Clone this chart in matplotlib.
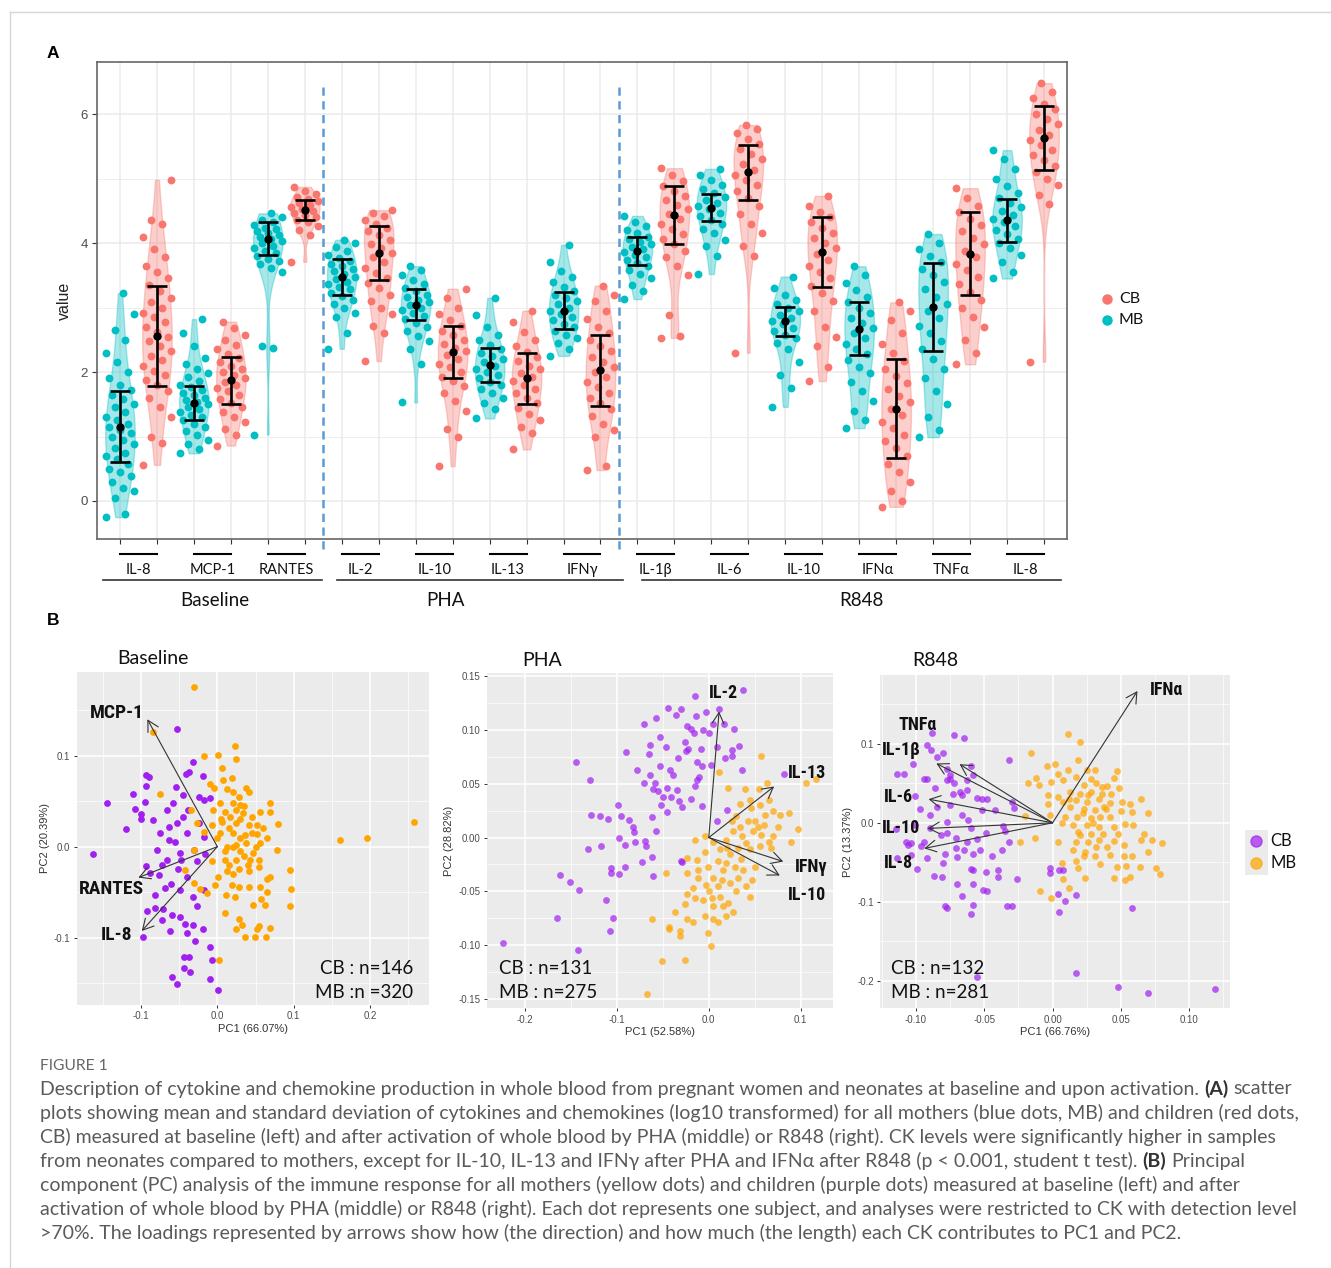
import numpy as np
import matplotlib
matplotlib.use('Agg')
import matplotlib.pyplot as plt
from matplotlib import font_manager
from matplotlib.lines import Line2D
from matplotlib.patches import Rectangle
from matplotlib.transforms import blended_transform_factory

# ---------------- fonts ----------------
_names = {f.name for f in font_manager.fontManager.ttflist}
def pick(*cands):
    for c in cands:
        if c in _names:
            return c
    return 'DejaVu Sans'
SANS = pick('Lato', 'Open Sans', 'Liberation Sans')
ARIAL = pick('Liberation Sans', 'Arimo', 'DejaVu Sans')
NARROW = pick('Liberation Sans Narrow', 'Roboto Condensed', 'Liberation Sans')
FS = [SANS, 'DejaVu Sans']
FA = [ARIAL, 'DejaVu Sans']
FN = [NARROW, 'DejaVu Sans']

# ---------------- data: panel A ----------------
categories = ['IL-8', 'MCP-1', 'RANTES', 'IL-2', 'IL-10', 'IL-13', 'IFNγ',
              'IL-1β', 'IL-6', 'IL-10', 'IFNα', 'TNFα', 'IL-8']
conditions = ['Baseline', 'PHA', 'R848']

values_mb = [
    [-0.25, -0.2, 0.05, 0.15, 0.2, 0.3, 0.38, 0.45, 0.5, 0.58, 0.65, 0.7, 0.75, 0.82, 0.88, 0.95, 1.0, 1.05, 1.1, 1.15, 1.2, 1.25, 1.3, 1.38, 1.45, 1.5, 1.58, 1.65, 1.72, 1.8, 1.9, 2.0, 2.15, 2.3, 2.5, 2.65, 2.9, 3.22],
    [0.74, 0.8, 0.88, 0.95, 1.02, 1.08, 1.14, 1.2, 1.25, 1.3, 1.34, 1.38, 1.42, 1.46, 1.5, 1.53, 1.56, 1.6, 1.64, 1.68, 1.72, 1.76, 1.8, 1.86, 1.92, 1.98, 2.05, 2.12, 2.22, 2.4, 2.6, 2.82],
    [1.03, 2.38, 2.4, 3.55, 3.62, 3.68, 3.72, 3.76, 3.8, 3.84, 3.88, 3.92, 3.96, 4.0, 4.03, 4.06, 4.09, 4.12, 4.15, 4.18, 4.21, 4.24, 4.28, 4.32, 4.36, 4.4, 4.46],
    [2.36, 2.6, 2.85, 2.92, 3.0, 3.06, 3.12, 3.18, 3.23, 3.28, 3.32, 3.36, 3.4, 3.44, 3.48, 3.52, 3.56, 3.6, 3.64, 3.68, 3.72, 3.77, 3.82, 3.88, 3.94, 4.0, 4.05],
    [1.53, 2.12, 2.35, 2.48, 2.56, 2.64, 2.7, 2.76, 2.82, 2.87, 2.92, 2.96, 3.0, 3.04, 3.08, 3.12, 3.16, 3.2, 3.25, 3.3, 3.36, 3.42, 3.5, 3.58, 3.64],
    [1.28, 1.42, 1.52, 1.6, 1.68, 1.74, 1.8, 1.85, 1.9, 1.95, 2.0, 2.05, 2.1, 2.15, 2.2, 2.25, 2.3, 2.36, 2.42, 2.5, 2.58, 2.7, 2.88, 3.15],
    [2.25, 2.35, 2.45, 2.52, 2.58, 2.64, 2.7, 2.75, 2.8, 2.85, 2.9, 2.95, 3.0, 3.05, 3.1, 3.15, 3.2, 3.26, 3.32, 3.4, 3.48, 3.56, 3.7, 3.97],
    [3.13, 3.25, 3.35, 3.45, 3.52, 3.58, 3.64, 3.69, 3.74, 3.78, 3.82, 3.86, 3.9, 3.94, 3.98, 4.02, 4.06, 4.1, 4.15, 4.2, 4.26, 4.32, 4.42],
    [3.52, 3.8, 3.95, 4.05, 4.15, 4.22, 4.3, 4.36, 4.42, 4.47, 4.52, 4.57, 4.62, 4.67, 4.72, 4.78, 4.84, 4.9, 4.98, 5.06, 5.15],
    [1.46, 1.75, 1.95, 2.15, 2.35, 2.45, 2.52, 2.58, 2.64, 2.69, 2.74, 2.79, 2.84, 2.89, 2.94, 3.0, 3.06, 3.12, 3.2, 3.3, 3.48],
    [1.13, 1.25, 1.4, 1.55, 1.7, 1.85, 1.98, 2.08, 2.18, 2.28, 2.36, 2.44, 2.52, 2.6, 2.68, 2.76, 2.84, 2.92, 3.0, 3.08, 3.17, 3.27, 3.38, 3.5, 3.64],
    [0.99, 1.1, 1.3, 1.5, 1.7, 1.9, 2.05, 2.2, 2.35, 2.48, 2.6, 2.72, 2.84, 2.95, 3.06, 3.17, 3.28, 3.39, 3.5, 3.6, 3.7, 3.8, 3.9, 4.0, 4.14],
    [3.45, 3.55, 3.7, 3.82, 3.92, 4.0, 4.07, 4.14, 4.2, 4.26, 4.32, 4.38, 4.44, 4.5, 4.56, 4.62, 4.7, 4.78, 4.88, 5.0, 5.15, 5.3, 5.44],
]
values_cb = [
    [0.56, 0.9, 1.0, 1.3, 1.45, 1.6, 1.7, 1.8, 1.88, 1.95, 2.02, 2.1, 2.18, 2.25, 2.32, 2.4, 2.48, 2.55, 2.62, 2.7, 2.78, 2.85, 2.92, 3.0, 3.08, 3.15, 3.25, 3.35, 3.45, 3.55, 3.65, 3.78, 3.9, 4.1, 4.3, 4.35, 4.98],
    [0.86, 1.02, 1.12, 1.22, 1.3, 1.38, 1.45, 1.52, 1.58, 1.64, 1.7, 1.75, 1.8, 1.85, 1.9, 1.95, 2.0, 2.05, 2.1, 2.16, 2.22, 2.28, 2.35, 2.42, 2.5, 2.58, 2.68, 2.78],
    [3.71, 4.12, 4.2, 4.26, 4.32, 4.36, 4.4, 4.44, 4.47, 4.5, 4.53, 4.56, 4.59, 4.62, 4.65, 4.68, 4.72, 4.76, 4.8, 4.87],
    [2.17, 2.6, 2.72, 2.9, 3.0, 3.1, 3.2, 3.3, 3.38, 3.46, 3.54, 3.62, 3.7, 3.78, 3.85, 3.92, 3.98, 4.05, 4.12, 4.18, 4.24, 4.3, 4.36, 4.42, 4.47, 4.51],
    [0.54, 1.0, 1.12, 1.4, 1.55, 1.68, 1.78, 1.86, 1.93, 2.0, 2.07, 2.13, 2.2, 2.26, 2.32, 2.38, 2.44, 2.5, 2.57, 2.64, 2.72, 2.8, 2.9, 3.0, 3.15, 3.29],
    [0.8, 1.05, 1.15, 1.25, 1.35, 1.44, 1.52, 1.6, 1.67, 1.74, 1.8, 1.86, 1.92, 1.98, 2.04, 2.1, 2.17, 2.24, 2.31, 2.4, 2.5, 2.62, 2.78, 2.95],
    [0.48, 0.55, 1.0, 1.1, 1.2, 1.32, 1.42, 1.52, 1.6, 1.68, 1.76, 1.84, 1.92, 2.0, 2.08, 2.16, 2.24, 2.32, 2.4, 2.5, 2.6, 2.7, 2.82, 2.95, 3.1, 3.2, 3.34],
    [2.53, 2.56, 2.89, 3.5, 3.65, 3.78, 3.88, 3.98, 4.06, 4.14, 4.22, 4.3, 4.38, 4.45, 4.52, 4.59, 4.66, 4.73, 4.8, 4.88, 4.96, 5.05, 5.16],
    [2.3, 3.8, 3.95, 4.15, 4.3, 4.45, 4.58, 4.7, 4.8, 4.9, 4.98, 5.06, 5.14, 5.22, 5.3, 5.38, 5.46, 5.54, 5.62, 5.7, 5.77, 5.83],
    [1.86, 2.08, 2.4, 2.55, 2.7, 2.95, 3.1, 3.22, 3.34, 3.45, 3.55, 3.65, 3.74, 3.83, 3.92, 4.0, 4.08, 4.16, 4.24, 4.32, 4.4, 4.48, 4.58, 4.73],
    [-0.09, 0.0, 0.15, 0.3, 0.45, 0.58, 0.7, 0.82, 0.93, 1.03, 1.13, 1.23, 1.33, 1.43, 1.53, 1.63, 1.73, 1.83, 1.94, 2.05, 2.17, 2.3, 2.44, 2.6, 2.8, 2.95, 3.08],
    [2.12, 2.3, 2.5, 2.7, 2.85, 3.0, 3.12, 3.24, 3.36, 3.47, 3.58, 3.68, 3.78, 3.88, 3.98, 4.08, 4.18, 4.28, 4.38, 4.48, 4.58, 4.7, 4.85],
    [2.16, 4.6, 4.75, 4.9, 5.0, 5.1, 5.2, 5.28, 5.36, 5.44, 5.52, 5.6, 5.68, 5.76, 5.84, 5.92, 6.0, 6.08, 6.16, 6.25, 6.34, 6.48],
]
mean_mb = [1.155, 1.52, 4.065, 3.475, 3.04, 2.11, 2.95, 3.88, 4.55, 2.785, 2.67, 3.005, 4.35]
sd_mb = [0.545, 0.26, 0.255, 0.275, 0.24, 0.26, 0.29, 0.22, 0.21, 0.225, 0.41, 0.685, 0.33]
mean_cb = [2.56, 1.87, 4.515, 3.85, 2.31, 1.905, 2.025, 4.43, 5.095, 3.865, 1.43, 3.835, 5.635]
sd_cb = [0.78, 0.36, 0.155, 0.42, 0.41, 0.395, 0.555, 0.45, 0.425, 0.545, 0.77, 0.645, 0.495]

# ---------------- data: panel B (PC1, PC2 scores) ----------------
baseline_cb = [(-0.163,-0.008),(-0.145,0.048),(-0.120,0.019),(-0.111,0.058),(-0.108,0.041),(-0.100,0.036),(-0.100,0.030),(-0.095,0.049),(-0.093,0.067),(-0.093,0.079),(-0.090,0.077),(-0.084,0.029),(-0.079,-0.004),(-0.093,-0.021),(-0.088,-0.029),(-0.082,-0.053),(-0.092,-0.071),(-0.082,-0.067),(-0.098,-0.099),(-0.073,-0.081),(-0.069,-0.045),(-0.066,-0.015),(-0.064,0.007),(-0.064,0.022),(-0.066,0.040),(-0.058,0.048),(-0.053,0.129),(-0.054,0.066),(-0.053,0.026),(-0.055,0.005),(-0.051,-0.024),(-0.061,-0.041),(-0.059,-0.075),(-0.062,-0.093),(-0.059,-0.143),(-0.053,-0.151),(-0.049,-0.077),(-0.042,-0.085),(-0.044,-0.121),(-0.044,-0.133),(-0.036,-0.138),(-0.037,-0.121),(-0.040,-0.095),(-0.041,0.080),(-0.037,0.082),(-0.032,0.093),(-0.045,0.057),(-0.038,0.040),(-0.040,0.015),(-0.040,-0.033),(-0.032,-0.055),(-0.032,-0.086),(-0.029,-0.104),(-0.027,-0.065),(-0.019,0.078),(-0.024,0.055),(-0.017,0.051),(-0.010,0.053),(-0.024,0.026),(-0.018,0.011),(-0.016,-0.008),(-0.018,-0.048),(-0.019,-0.090),(-0.010,-0.110),(-0.007,-0.124),(-0.009,-0.145),(0.001,-0.158),(-0.031,-0.004),(-0.027,-0.016),(-0.047,-0.015),(-0.073,-0.020),(-0.077,-0.031),(-0.071,-0.068),(-0.049,-0.048),(-0.075,0.015),(-0.049,-0.007),(-0.045,0.033)]
baseline_mb = [(-0.031,0.176),(-0.084,0.126),(0.023,0.111),(0.025,0.096),(0.001,0.101),(-0.018,0.100),(0.006,0.086),(0.019,0.075),(0.007,0.073),(0.038,0.064),(0.041,0.060),(-0.010,0.069),(-0.004,0.064),(0.012,0.063),(0.069,0.048),(0.069,0.038),(0.080,0.025),(0.056,0.038),(0.028,0.055),(0.030,0.046),(0.021,0.048),(0.003,0.048),(-0.006,0.040),(0.010,0.038),(0.017,0.033),(0.034,0.037),(0.045,0.033),(0.052,0.024),(0.041,0.024),(0.025,0.026),(0.006,0.027),(-0.007,0.024),(-0.027,0.026),(-0.034,0.040),(-0.075,0.058),(-0.018,0.016),(0.003,0.015),(0.021,0.015),(0.036,0.013),(0.052,0.014),(0.065,0.009),(0.078,-0.004),(0.056,0.004),(0.038,0.004),(0.025,0.002),(0.012,0.000),(0.030,-0.005),(0.047,-0.007),(0.043,-0.015),(0.025,-0.015),(0.010,-0.015),(-0.007,-0.016),(-0.031,-0.004),(-0.042,-0.026),(-0.031,-0.040),(-0.023,-0.046),(-0.014,-0.051),(-0.003,-0.042),(0.001,-0.033),(0.012,-0.027),(0.028,-0.024),(0.041,-0.027),(0.054,-0.022),(0.069,-0.033),(0.095,-0.026),(0.097,-0.046),(0.095,-0.065),(0.065,-0.035),(0.056,-0.044),(0.065,-0.050),(0.057,-0.057),(0.063,-0.064),(0.047,-0.064),(0.041,-0.044),(0.028,-0.044),(0.023,-0.055),(0.011,-0.053),(0.010,-0.073),(0.019,-0.042),(0.028,-0.079),(0.032,-0.086),(0.024,-0.090),(0.036,-0.099),(0.049,-0.099),(0.054,-0.087),(0.052,-0.090),(0.064,-0.099),(0.069,-0.089),(0.002,-0.125),(0.161,0.007),(0.196,0.010),(0.257,0.027),(0.015,0.020),(0.030,0.030),(0.020,0.000),(0.035,-0.010),(0.045,0.015),(0.010,-0.005),(0.005,0.030),(0.025,0.040),(0.040,-0.020),(0.020,-0.030),(0.050,0.000),(0.030,0.010),(0.015,-0.020),(0.060,0.020),(0.000,0.010),(0.035,0.045),(0.055,-0.015),(0.020,0.060)]
pha_cb = [(-0.224,-0.098),(-0.165,-0.075),(-0.162,-0.035),(-0.151,-0.041),(-0.141,-0.049),(-0.144,0.070),(-0.142,-0.104),(-0.131,-0.011),(-0.129,0.053),(-0.128,0.021),(-0.118,0.020),(-0.117,-0.008),(-0.110,0.017),(-0.112,-0.058),(-0.108,-0.087),(-0.106,-0.028),(-0.106,-0.033),(-0.104,-0.075),(-0.099,0.030),(-0.098,0.000),(-0.098,-0.034),(-0.095,0.020),(-0.091,-0.007),(-0.091,-0.027),(-0.090,0.079),(-0.087,0.016),(-0.083,0.010),(-0.081,0.005),(-0.080,-0.004),(-0.078,0.063),(-0.073,-0.023),(-0.070,0.105),(-0.070,0.051),(-0.069,-0.003),(-0.068,-0.008),(-0.065,0.078),(-0.064,0.086),(-0.064,0.058),(-0.062,0.019),(-0.062,-0.018),(-0.061,-0.036),(-0.061,0.045),(-0.059,0.051),(-0.057,0.111),(-0.057,0.006),(-0.055,0.043),(-0.053,0.093),(-0.053,0.066),(-0.052,0.030),(-0.050,0.038),(-0.047,0.084),(-0.046,0.046),(-0.045,0.024),(-0.044,0.120),(-0.042,0.063),(-0.041,0.038),(-0.039,0.058),(-0.036,0.114),(-0.035,0.044),(-0.033,0.074),(-0.032,0.034),(-0.030,0.119),(-0.029,0.028),(-0.029,-0.023),(-0.026,0.089),(-0.025,0.080),(-0.024,0.104),(-0.023,0.082),(-0.019,0.101),(-0.019,0.036),(-0.016,0.097),(-0.015,0.131),(-0.015,0.048),(-0.014,0.113),(-0.013,0.070),(-0.013,0.053),(-0.011,0.056),(-0.008,0.082),(-0.007,0.066),(-0.007,0.029),(-0.006,0.100),(-0.003,0.117),(0.000,0.097),(0.002,0.067),(0.005,0.105),(0.009,0.015),(0.009,0.084),(0.011,0.119),(0.017,0.105),(0.018,0.074),(0.020,0.026),(0.025,0.076),(0.025,0.081),(0.027,0.101),(0.033,0.085),(0.036,0.063),(0.037,0.137),(0.082,0.059),(-0.030,-0.022)]
pha_mb = [(0.057,0.076),(0.011,0.061),(0.021,0.046),(0.039,0.045),(0.063,0.051),(0.106,0.051),(0.117,0.054),(0.034,0.031),(0.046,0.027),(0.056,0.030),(0.061,0.021),(0.070,0.025),(0.078,0.021),(0.087,0.023),(0.097,0.008),(0.089,-0.004),(0.065,-0.004),(0.054,0.010),(0.043,0.015),(0.034,0.010),(0.026,0.006),(0.019,-0.002),(0.036,0.001),(0.048,0.006),(0.057,0.002),(0.070,0.001),(0.068,-0.010),(0.056,-0.008),(0.045,-0.011),(0.032,-0.010),(0.023,-0.015),(0.012,-0.011),(0.005,-0.004),(-0.004,0.001),(-0.015,-0.002),(-0.004,-0.013),(-0.013,-0.021),(-0.024,-0.019),(-0.024,-0.033),(-0.012,-0.030),(-0.001,-0.027),(0.010,-0.022),(0.019,-0.024),(0.028,-0.027),(0.037,-0.030),(0.050,-0.027),(0.047,-0.039),(0.045,-0.055),(0.032,-0.038),(0.023,-0.042),(0.014,-0.039),(0.005,-0.038),(-0.003,-0.044),(-0.012,-0.038),(-0.017,-0.047),(-0.024,-0.052),(-0.015,-0.056),(-0.006,-0.058),(0.003,-0.056),(0.012,-0.055),(0.021,-0.061),(0.026,-0.069),(0.016,-0.064),(0.005,-0.064),(-0.004,-0.073),(0.005,-0.076),(0.010,-0.078),(0.019,-0.073),(-0.026,-0.062),(-0.037,-0.069),(-0.024,-0.076),(-0.017,-0.078),(-0.031,-0.087),(-0.031,-0.091),(-0.043,-0.083),(-0.043,-0.085),(-0.062,-0.076),(-0.001,-0.089),(0.002,-0.101),(-0.051,-0.115),(-0.026,-0.114),(-0.067,-0.145),(-0.047,-0.033),(0.030,0.020),(0.050,0.015),(0.040,-0.005),(0.060,0.012),(0.020,-0.010),(0.035,-0.020),(0.015,-0.030),(0.045,0.035),(0.025,0.015),(0.065,0.035),(0.075,0.010),(0.000,-0.050),(0.010,-0.045),(0.030,-0.050),(0.040,-0.045),(0.055,0.045)]
r848_cb = [(-0.088,0.114),(-0.072,0.111),(-0.065,0.108),(-0.092,0.098),(-0.089,0.092),(-0.080,0.089),(-0.085,0.083),(-0.032,0.079),(-0.102,0.074),(-0.060,0.072),(-0.077,0.068),(-0.114,0.062),(-0.109,0.062),(-0.075,0.060),(-0.058,0.060),(-0.094,0.055),(-0.092,0.056),(-0.075,0.055),(-0.063,0.054),(-0.077,0.054),(-0.072,0.050),(-0.086,0.044),(-0.063,0.042),(-0.068,0.039),(-0.073,0.036),(-0.101,0.034),(-0.066,0.035),(-0.055,0.032),(-0.052,0.030),(-0.048,0.030),(-0.030,0.027),(-0.085,0.020),(-0.075,0.022),(-0.097,0.018),(-0.052,0.016),(-0.042,0.016),(-0.028,0.019),(-0.090,0.010),(-0.066,0.010),(-0.077,0.001),(-0.062,0.003),(-0.101,-0.003),(-0.036,-0.004),(-0.115,-0.008),(-0.090,-0.007),(-0.060,-0.007),(-0.077,-0.013),(-0.049,-0.013),(-0.035,-0.010),(-0.082,-0.016),(-0.107,-0.024),(-0.104,-0.025),(-0.094,-0.024),(-0.071,-0.019),(-0.063,-0.024),(-0.055,-0.021),(-0.032,-0.024),(-0.106,-0.028),(-0.096,-0.029),(-0.071,-0.032),(-0.065,-0.035),(-0.053,-0.035),(-0.037,-0.035),(-0.104,-0.041),(-0.092,-0.045),(-0.079,-0.039),(-0.070,-0.043),(-0.058,-0.040),(-0.044,-0.042),(-0.114,-0.045),(-0.099,-0.059),(-0.080,-0.051),(-0.060,-0.058),(-0.058,-0.060),(-0.049,-0.062),(-0.040,-0.060),(-0.087,-0.068),(-0.081,-0.069),(-0.070,-0.077),(-0.058,-0.077),(-0.040,-0.069),(-0.026,-0.071),(-0.066,-0.093),(-0.051,-0.085),(-0.048,-0.086),(-0.079,-0.106),(-0.077,-0.108),(-0.058,-0.104),(-0.060,-0.115),(-0.033,-0.105),(-0.030,-0.105),(-0.055,-0.195),(-0.002,-0.057),(-0.002,-0.063),(0.005,-0.060),(0.008,-0.060),(0.004,-0.090),(0.009,-0.099),(0.005,-0.113),(0.017,-0.092),(0.017,-0.190),(0.058,-0.108),(0.048,-0.208),(0.070,-0.216),(0.119,-0.210)]
r848_mb = [(0.011,0.113),(0.020,0.102),(-0.016,0.089),(0.002,0.074),(-0.004,0.072),(0.019,0.079),(0.025,0.067),(0.031,0.067),(0.047,0.066),(0.011,0.067),(0.004,0.062),(-0.012,0.057),(0.045,0.057),(-0.018,0.050),(-0.010,0.048),(-0.001,0.052),(0.008,0.054),(0.017,0.058),(0.023,0.048),(0.032,0.050),(0.040,0.047),(0.049,0.044),(0.013,0.039),(0.020,0.037),(0.028,0.039),(0.036,0.036),(0.043,0.037),(-0.003,0.035),(0.004,0.033),(0.008,0.027),(0.017,0.029),(0.025,0.027),(0.034,0.030),(0.042,0.025),(0.051,0.027),(0.057,0.024),(0.065,0.030),(-0.003,0.024),(0.013,0.020),(0.023,0.018),(0.031,0.016),(0.039,0.018),(0.050,0.015),(0.058,0.014),(0.070,0.012),(-0.020,0.009),(-0.002,0.010),(0.009,0.008),(0.018,0.008),(0.028,0.006),(0.035,0.008),(0.042,0.008),(0.007,0.000),(0.015,-0.003),(0.025,-0.003),(0.034,-0.005),(0.045,-0.005),(0.053,-0.002),(0.059,-0.003),(0.019,-0.011),(0.028,-0.014),(0.037,-0.014),(0.048,-0.014),(0.067,-0.014),(-0.013,-0.019),(-0.024,-0.024),(0.004,-0.024),(0.017,-0.024),(0.026,-0.024),(0.034,-0.022),(0.045,-0.023),(0.052,-0.028),(0.065,-0.022),(0.073,-0.022),(0.080,-0.025),(0.015,-0.035),(0.024,-0.037),(0.031,-0.042),(0.042,-0.041),(0.052,-0.042),(0.058,-0.042),(0.070,-0.037),(0.007,-0.051),(0.017,-0.048),(0.023,-0.042),(0.035,-0.052),(0.047,-0.056),(0.054,-0.055),(0.064,-0.056),(0.076,-0.057),(0.079,-0.065),(0.019,-0.057),(0.008,-0.071),(0.024,-0.070),(0.045,-0.070),(0.053,-0.073),(0.057,-0.069),(0.012,-0.082),(-0.009,-0.086),(-0.001,-0.095),(0.022,0.012),(0.030,0.000),(0.038,0.020),(0.026,0.035),(0.032,-0.030),(0.012,0.030),(0.040,-0.030),(0.020,-0.015),(0.036,0.045),(0.028,0.055)]

# loadings (arrow tips)
baseline_load_names = ['MCP-1', 'RANTES', 'IL-8']
baseline_load = [(-0.0917, 0.140), (-0.1035, -0.034), (-0.099, -0.0926)]
pha_load_names = ['IL-2', 'IL-13', 'IFNγ', 'IL-10']
pha_load = [(0.0112, 0.117), (0.0711, 0.0474), (0.081, -0.0223), (0.0773, -0.0353)]
r848_load_names = ['IFNα', 'TNFα', 'IL-1β', 'IL-6', 'IL-10', 'IL-8']
r848_load = [(0.0622, 0.167), (-0.0681, 0.0743), (-0.0851, 0.0752), (-0.0908, 0.030), (-0.0915, -0.0071), (-0.094, -0.0324)]

variance_pc1 = ['66.07%', '52.58%', '66.76%']
variance_pc2 = ['20.39%', '28.82%', '13.37%']
counts_cb = [146, 131, 132]
counts_mb = [320, 275, 281]

# ---------------- figure ----------------
W, H = 1331, 1268
DPI = 100
fig = plt.figure(figsize=(W / DPI, H / DPI), dpi=DPI)
fig.patch.set_facecolor('white')

def fy(py):
    return 1 - py / H

def fx(px):
    return px / W

COL_CB = '#F8766D'
COL_MB = '#00BFC4'
PURPLE = '#A020F0'
ORANGE = '#FFA500'

# page frame lines
fig.add_artist(Line2D([fx(10), 1], [fy(12), fy(12)], color='#D5D5D5', lw=1))
fig.add_artist(Line2D([fx(10), fx(10)], [fy(12), 0], color='#D5D5D5', lw=1))

fig.text(fx(47), fy(53), 'A', fontsize=12.5, fontweight='bold', family=FA, va='center')
fig.text(fx(47), fy(620), 'B', fontsize=12.5, fontweight='bold', family=FA, va='center')

# ---------------- panel A ----------------
axA = fig.add_axes([fx(97.3), fy(539.3), (1066.7 - 97.3) / W, (539.3 - 62) / H])
axA.set_xlim(0.386, 26.614)
axA.set_ylim(-0.594, 6.807)
axA.set_xticks(np.arange(1, 2 * len(categories) + 1))
axA.set_xticklabels([])
axA.set_yticks([0, 2, 4, 6])
axA.set_yticks([1, 3, 5], minor=True)
axA.tick_params(axis='both', which='major', length=3.5, color='#333333', width=0.8,
                labelsize=9.5, labelcolor='#4D4D4D', labelfontfamily=ARIAL)
axA.tick_params(axis='y', which='minor', length=0)
axA.grid(True, which='major', color='#EBEBEB', lw=1.1)
axA.grid(True, which='minor', axis='y', color='#EBEBEB', lw=0.6)
axA.set_axisbelow(True)
for s in axA.spines.values():
    s.set_color('#666666')
    s.set_linewidth(1.2)
axA.set_ylabel('value', fontsize=11.5, family=FA, color='#222222', labelpad=6)

for i in range(len(categories)):
    for vals, mean, sd, pos, col in ((values_mb[i], mean_mb[i], sd_mb[i], 2 * i + 1, COL_MB),
                                     (values_cb[i], mean_cb[i], sd_cb[i], 2 * i + 2, COL_CB)):
        v = np.asarray(vals, dtype=float)
        n = len(v)
        jit = (((np.arange(n) * 7) % 11) / 10.0 - 0.5) * 0.74
        axA.scatter(pos + jit, v, s=32, color=col, lw=0, zorder=2)
        vp = axA.violinplot([v], positions=[pos], widths=0.8, showextrema=False, bw_method=0.45)
        for b in vp['bodies']:
            b.set_facecolor(col)
            b.set_edgecolor(col)
            b.set_alpha(0.35)
            b.set_linewidth(1.0)
            b.set_zorder(3)
        axA.errorbar([pos], [mean], yerr=[sd], color='black', lw=1.9, capsize=7, capthick=1.9,
                     marker='o', ms=5, zorder=5)

# dashed separators
for xs in (6.5, 14.5):
    axA.plot([xs, xs], [-0.75, 6.42], color='#5B9BD5', lw=1.8, ls=(0, (3.3, 2.2)),
             clip_on=False, zorder=6)

transA = blended_transform_factory(axA.transData, fig.transFigure)
for i, cat in enumerate(categories):
    x1, x2 = 2 * i + 1, 2 * i + 2
    fig.add_artist(Line2D([x1, x2], [fy(554), fy(554)], transform=transA, color='black', lw=1.5))
    fig.text((x1 + x2) / 2, fy(570), cat, transform=transA, ha='center', va='center',
             fontsize=10.5, family=FS, color='#111111')
group_spans = [(0.54, 6.457), (6.86, 14.61), (15.12, 26.46)]
group_label_x = [3.57, 9.81, 21.05]
for (a, b), lx, name in zip(group_spans, group_label_x, conditions):
    fig.add_artist(Line2D([a, b], [fy(580), fy(580)], transform=transA, color='#333333', lw=1.2))
    fig.text(lx, fy(601), name, transform=transA, ha='center', va='center',
             fontsize=13.5, family=FS, color='#111111')

# legend A
for yy, lab, col in ((299, 'CB', COL_CB), (320, 'MB', COL_MB)):
    fig.add_artist(Line2D([fx(1107)], [fy(yy)], marker='o', ms=6.5, color=col, lw=0))
    fig.text(fx(1119), fy(yy), lab, fontsize=11.5, family=FS, va='center', color='#111111')

# ---------------- panel B ----------------
def pca_panel(rect, xlim, ylim, xt, xtl, xminor, yt, ytl, yminor, pc1, pc2):
    ax = fig.add_axes(rect)
    ax.set_facecolor('#EBEBEB')
    ax.set_xlim(*xlim)
    ax.set_ylim(*ylim)
    ax.set_xticks(xt)
    ax.set_xticklabels(xtl)
    ax.set_yticks(yt)
    ax.set_yticklabels(ytl)
    ax.set_xticks(xminor, minor=True)
    ax.set_yticks(yminor, minor=True)
    ax.grid(True, which='major', color='white', lw=1.1)
    ax.grid(True, which='minor', color='white', lw=0.5)
    ax.set_axisbelow(True)
    for s in ax.spines.values():
        s.set_visible(False)
    ax.tick_params(which='major', length=2.5, color='#333333', width=0.7, labelsize=7,
                   labelcolor='#4D4D4D', pad=2, labelfontfamily=ARIAL)
    ax.tick_params(which='minor', length=0)
    ax.set_xlabel('PC1 (%s)' % pc1, fontsize=8, family=FA, color='#333333', labelpad=2)
    ax.set_ylabel('PC2 (%s)' % pc2, fontsize=8, family=FA, color='#333333', labelpad=3)
    return ax

def arrows(ax, tips, names, label_pos, fs):
    for (tx, ty), nm, (lx, ly) in zip(tips, names, label_pos):
        ax.annotate('', xy=(tx, ty), xytext=(0, 0),
                    arrowprops=dict(arrowstyle='->,head_length=0.55,head_width=0.3', lw=0.8,
                                    color='#333333', shrinkA=0, shrinkB=0, mutation_scale=14),
                    zorder=5)
        ax.text(lx, ly, nm, fontsize=fs, fontweight='bold', family=FN, ha='center', va='center',
                zorder=6, color='#111111')

def scatter_pts(ax, pts, col, alpha):
    a = np.asarray(pts)
    ax.scatter(a[:, 0], a[:, 1], s=24, color=col, lw=0, alpha=alpha, zorder=3)

# Baseline
ax1 = pca_panel([fx(76.7), fy(1005), (429.3 - 76.7) / W, (1005 - 671.7) / H],
                (-0.1843, 0.2777), (-0.174, 0.1923),
                [-0.1, 0.0, 0.1, 0.2], ['-0.1', '0.0', '0.1', '0.2'], [-0.15, -0.05, 0.05, 0.15, 0.25],
                [-0.1, 0.0, 0.1], ['-0.1', '0.0', '0.1'], [-0.15, -0.05, 0.05, 0.15],
                variance_pc1[0], variance_pc2[0])
scatter_pts(ax1, baseline_cb, PURPLE, 1.0)
scatter_pts(ax1, baseline_mb, ORANGE, 1.0)
arrows(ax1, baseline_load, baseline_load_names,
       [(-0.132, 0.147), (-0.139, -0.046), (-0.132, -0.097)], 14)
fig.text(fx(117), fy(658), 'Baseline', fontsize=14, family=FS, va='center', color='#111111')
fig.text(fx(413), fy(969), 'CB : n=%d' % counts_cb[0], fontsize=13.5, family=FS, ha='right', va='center', color='#111111')
fig.text(fx(413), fy(993), 'MB :n =%d' % counts_mb[0], fontsize=13.5, family=FS, ha='right', va='center', color='#111111')

# PHA
ax2 = pca_panel([fx(486.7), fy(1008.3), (833.3 - 486.7) / W, (1008.3 - 673.3) / H],
                (-0.2417, 0.1355), (-0.1586, 0.1525),
                [-0.2, -0.1, 0.0, 0.1], ['-0.2', '-0.1', '0.0', '0.1'], [-0.15, -0.05, 0.05],
                [-0.15, -0.10, -0.05, 0.0, 0.05, 0.10, 0.15],
                ['-0.15', '-0.10', '-0.05', '0.00', '0.05', '0.10', '0.15'],
                [-0.125, -0.075, -0.025, 0.025, 0.075, 0.125],
                variance_pc1[1], variance_pc2[1])
scatter_pts(ax2, pha_cb, PURPLE, 0.7)
scatter_pts(ax2, pha_mb, ORANGE, 0.7)
arrows(ax2, pha_load, pha_load_names,
       [(0.0156, 0.134), (0.1064, 0.0598), (0.1119, -0.027), (0.1064, -0.0533)], 13)
fig.text(fx(522), fy(660), 'PHA', fontsize=14, family=FS, va='center', color='#111111')
fig.text(fx(499), fy(969), 'CB : n=%d' % counts_cb[1], fontsize=13.5, family=FS, ha='left', va='center', color='#111111')
fig.text(fx(499), fy(993), 'MB : n=%d' % counts_mb[1], fontsize=13.5, family=FS, ha='left', va='center', color='#111111')

# R848
ax3 = pca_panel([fx(880), fy(1008.3), (1230 - 880) / W, (1008.3 - 675) / H],
                (-0.1264, 0.130), (-0.235, 0.1873),
                [-0.10, -0.05, 0.0, 0.05, 0.10], ['-0.10', '-0.05', '0.00', '0.05', '0.10'],
                [-0.125, -0.075, -0.025, 0.025, 0.075, 0.125],
                [-0.2, -0.1, 0.0, 0.1], ['-0.2', '-0.1', '0.0', '0.1'], [-0.15, -0.05, 0.05, 0.15],
                variance_pc1[2], variance_pc2[2])
scatter_pts(ax3, r848_mb, ORANGE, 0.7)
scatter_pts(ax3, r848_cb, PURPLE, 0.7)
arrows(ax3, r848_load, r848_load_names,
       [(0.0837, 0.1688), (-0.099, 0.1237), (-0.1111, 0.092), (-0.113, 0.033), (-0.111, -0.0071), (-0.113, -0.0506)], 13)
fig.text(fx(912), fy(660), 'R848', fontsize=14, family=FS, va='center', color='#111111')
fig.text(fx(891), fy(968), 'CB : n=%d' % counts_cb[2], fontsize=13.5, family=FS, ha='left', va='center', color='#111111')
fig.text(fx(891), fy(993), 'MB : n=%d' % counts_mb[2], fontsize=13.5, family=FS, ha='left', va='center', color='#111111')

# legend B
fig.add_artist(Rectangle((fx(1245), fy(875)), 23 / W, 45 / H, transform=fig.transFigure,
                         facecolor='#EBEBEB', edgecolor='none'))
for yy, lab, col in ((841, 'CB', PURPLE), (863, 'MB', ORANGE)):
    fig.add_artist(Line2D([fx(1256)], [fy(yy)], marker='o', ms=8, color=col, alpha=0.7, lw=0))
    fig.text(fx(1270), fy(yy), lab, fontsize=12, family=FS, va='center', color='#111111')

# ---------------- caption ----------------
caption_lines = [
    [("Description of cytokine and chemokine production in whole blood from pregnant women and neonates at baseline and upon activation.", False), ("(A)", True), ("scatter", False)],
    [("plots showing mean and standard deviation of cytokines and chemokines (log10 transformed) for all mothers (blue dots, MB) and children (red dots,", False)],
    [("CB) measured at baseline (left) and after activation of whole blood by PHA (middle) or R848 (right). CK levels were significantly higher in samples", False)],
    [("from neonates compared to mothers, except for IL-10, IL-13 and IFNγ after PHA and IFNα after R848 (p < 0.001, student t test).", False), ("(B)", True), ("Principal", False)],
    [("component (PC) analysis of the immune response for all mothers (yellow dots) and children (purple dots) measured at baseline (left) and after", False)],
    [("activation of whole blood by PHA (middle) or R848 (right). Each dot represents one subject, and analyses were restricted to CK with detection level", False)],
    [(">70%. The loadings represented by arrows show how (the direction) and how much (the length) each CK contributes to PC1 and PC2.", False)],
]
renderer = fig.canvas.get_renderer()
CAP_COL = '#5A5A5A'

def text_w(s, size, bold):
    t = fig.text(0, 0, s, fontsize=size, fontweight='bold' if bold else 'normal', family=FS)
    w = t.get_window_extent(renderer=renderer).width
    t.remove()
    return w

def line_w(parts, size):
    sp = text_w('a a', size, False) - text_w('aa', size, False)
    return sum(text_w(s, size, b) for s, b in parts) + sp * (len(parts) - 1)

base = 11.0
cap_size = base * 1249.0 / line_w(caption_lines[0], base)
space_w = text_w('a a', cap_size, False) - text_w('aa', cap_size, False)

fig.text(fx(40), fy(1066), 'FIGURE 1', fontsize=cap_size * 0.8, family=FS, color='#666666', va='center')
for k, parts in enumerate(caption_lines):
    x = 40.0
    y = 1089 + 24 * k
    for s, b in parts:
        t = fig.text(fx(x), fy(y), s, fontsize=cap_size, fontweight='bold' if b else 'normal',
                     family=FS, color='#333333' if b else CAP_COL, va='center', ha='left')
        x += t.get_window_extent(renderer=renderer).width + space_w

fig.savefig('out.png', dpi=DPI)
